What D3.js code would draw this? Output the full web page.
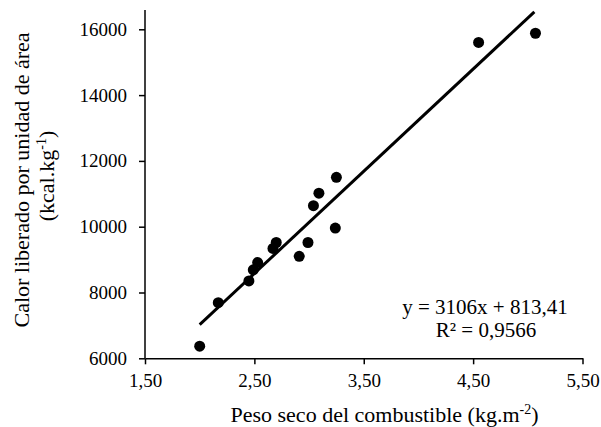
<!DOCTYPE html>
<html>
<head>
<meta charset="utf-8">
<script src="https://cdn.jsdelivr.net/npm/d3@7/dist/d3.min.js"></script>
<style>
  html, body { margin: 0; padding: 0; background: #fff; }
</style>
</head>
<body>
<svg id="chart" width="601" height="427"></svg>
<script>
// Data
const pesoSeco = [2.00, 2.17, 2.45, 2.49, 2.53, 2.67, 2.70, 2.91, 2.99, 3.04, 3.09, 3.24, 3.25, 4.55, 5.07];
const calor = [6370, 7690, 8350, 8690, 8910, 9340, 9520, 9100, 9520, 10640, 11020, 9960, 11500, 15600, 15880];
const xTicks = [1.5, 2.5, 3.5, 4.5, 5.5];
const yTicks = [6000, 8000, 10000, 12000, 14000, 16000];
const slope = 3106, intercept = 813.41;
const trendX = [2.0, 5.06];
const eqText = "y = 3106x + 813,41";
const r2Text = "R² = 0,9566";

const FONT = "Liberation Serif";
const FS = 19;   // tick labels
const FT = 22;   // titles
const FE = 21;   // equation
const svg = d3.select("#chart");
const x = d3.scaleLinear().domain([1.5, 5.5]).range([145, 582.5]);
const y = d3.scaleLinear().domain([6000, 16000]).range([358.3, 29.3]);
const fmtX = d => d3.format(".2f")(d).replace(".", ",");

// axes
const xAxis = svg.append("g").attr("transform", `translate(0,${y(6000)})`)
  .call(d3.axisBottom(x).tickValues(xTicks).tickFormat(fmtX).tickSize(6).tickSizeOuter(0));
xAxis.attr("font-family", null).attr("font-size", null);
xAxis.select(".domain").attr("stroke", "#000").attr("stroke-width", 1.5);
xAxis.selectAll(".tick line").attr("stroke", "#000").attr("stroke-width", 1.5);
xAxis.selectAll(".tick text").attr("y", 28.5).attr("dy", null)
  .style("font-family", FONT).style("font-size", FS + "px").attr("fill", "#000");

const yAxis = svg.append("g").attr("transform", `translate(${x(1.5)},0)`)
  .call(d3.axisLeft(y).tickValues(yTicks).tickFormat(d3.format("d")).tickSize(6).tickSizeOuter(0));
yAxis.attr("font-family", null).attr("font-size", null);
yAxis.select(".domain").remove();
yAxis.append("line").attr("x1", 0).attr("x2", 0).attr("y1", y(6000)).attr("y2", 10)
  .attr("stroke", "#000").attr("stroke-width", 1.5);
yAxis.selectAll(".tick line").attr("stroke", "#000").attr("stroke-width", 1.5);
yAxis.selectAll(".tick text").attr("x", -18)
  .style("font-family", FONT).style("font-size", FS + "px").attr("fill", "#000");

// trend line
svg.append("line")
  .attr("x1", x(trendX[0])).attr("y1", y(slope * trendX[0] + intercept))
  .attr("x2", x(trendX[1])).attr("y2", y(slope * trendX[1] + intercept))
  .attr("stroke", "#000").attr("stroke-width", 3);

// points
svg.append("g").selectAll("circle").data(pesoSeco).join("circle")
  .attr("cx", d => x(d)).attr("cy", (d, i) => y(calor[i])).attr("r", 5.5).attr("fill", "#000");

function txt(sel, fs) { return sel.style("font-family", FONT).style("font-size", (fs || FT) + "px").attr("fill", "#000"); }

// equation
txt(svg.append("text"), FE).attr("x", 485).attr("y", 314).attr("text-anchor", "middle").text(eqText);
txt(svg.append("text"), FE).attr("x", 486).attr("y", 337).attr("text-anchor", "middle").text(r2Text);

// axis titles
const xt = txt(svg.append("text")).attr("x", 384.5).attr("y", 422).attr("text-anchor", "middle");
xt.append("tspan").text("Peso seco del combustible (kg.m");
xt.append("tspan").style("font-size", "14px").attr("dy", -8).text("-2");
xt.append("tspan").attr("dy", 8).text(")");

const yt = svg.append("g").attr("transform", "rotate(-90)");
txt(yt.append("text")).attr("x", -180).attr("y", 29).attr("text-anchor", "middle")
  .text("Calor liberado por unidad de área");
const yt2 = txt(yt.append("text")).attr("x", -176).attr("y", 54).attr("text-anchor", "middle");
yt2.append("tspan").text("(kcal.kg");
yt2.append("tspan").style("font-size", "14px").attr("dy", -8).text("-1");
yt2.append("tspan").attr("dy", 8).text(")");
</script>
</body>
</html>
